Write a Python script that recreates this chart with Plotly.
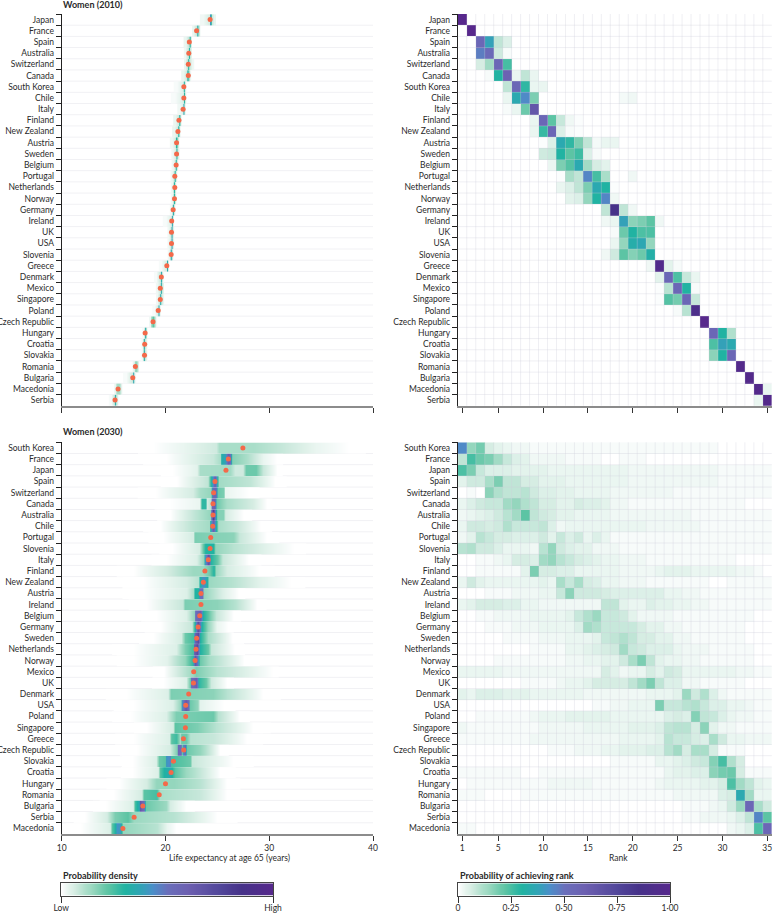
import plotly.graph_objects as go

COUNTRIES_2010 = [
    "Japan", "France", "Spain", "Australia", "Switzerland", "Canada", "South Korea",
    "Chile", "Italy", "Finland", "New Zealand", "Austria", "Sweden", "Belgium",
    "Portugal", "Netherlands", "Norway", "Germany", "Ireland", "UK", "USA", "Slovenia",
    "Greece", "Denmark", "Mexico", "Singapore", "Poland", "Czech Republic", "Hungary",
    "Croatia", "Slovakia", "Romania", "Bulgaria", "Macedonia", "Serbia",
]
COUNTRIES_2030 = [
    "South Korea", "France", "Japan", "Spain", "Switzerland", "Canada", "Australia",
    "Chile", "Portugal", "Slovenia", "Italy", "Finland", "New Zealand", "Austria",
    "Ireland", "Belgium", "Germany", "Sweden", "Netherlands", "Norway", "Mexico", "UK",
    "Denmark", "USA", "Poland", "Singapore", "Greece", "Czech Republic", "Slovakia",
    "Croatia", "Hungary", "Romania", "Bulgaria", "Serbia", "Macedonia",
]

# posterior mean life expectancy, the orange dots
MEANS_2010 = [
    24.3, 23.0, 22.3, 22.25, 22.2, 22.2, 21.77, 21.77, 21.7, 21.3, 21.2, 21.07, 21.07,
    21.03, 20.9, 20.9, 20.87, 20.74, 20.6, 20.58, 20.58, 20.55, 20.13, 19.6, 19.5, 19.5,
    19.3, 18.8, 18.04, 18.0, 17.98, 17.1, 16.85, 15.43, 15.14,
]
MEANS_2030 = [
    27.46, 26.06, 25.83, 24.77, 24.64, 24.58, 24.58, 24.55, 24.36, 24.3, 24.13, 23.8,
    23.65, 23.42, 23.42, 23.3, 23.14, 23.0, 22.94, 22.85, 22.72, 22.7, 22.24, 21.95,
    21.95, 21.92, 21.73, 21.76, 20.77, 20.54, 20.0, 19.4, 17.82, 16.98, 15.9,
]

# density profiles: years and density at those years
DENSITY_2010_YEARS = [
    [23.6, 24.15, 24.3, 24.45, 24.7], [22.7, 22.95, 23.05, 23.15, 23.3],
    [21.9, 22.2, 22.3, 22.4, 22.5], [21.9, 22.15, 22.25, 22.35, 22.5],
    [21.9, 22.1, 22.2, 22.3, 22.6], [21.7, 22.05, 22.15, 22.25, 22.4],
    [21.1, 21.7, 21.8, 21.9, 22.0], [20.9, 21.65, 21.75, 21.85, 22.0],
    [21.3, 21.6, 21.7, 21.8, 21.9], [20.9, 21.2, 21.3, 21.4, 21.5],
    [20.8, 21.1, 21.2, 21.3, 21.4], [20.6, 20.95, 21.05, 21.15, 21.3],
    [20.7, 20.95, 21.05, 21.15, 21.3], [20.7, 20.9, 21.0, 21.1, 21.2],
    [20.6, 20.8, 20.9, 21.0, 21.1], [20.6, 20.75, 20.85, 20.95, 21.05],
    [20.6, 20.75, 20.85, 20.95, 21.05], [20.5, 20.65, 20.75, 20.85, 20.95],
    [20.0, 20.5, 20.6, 20.7, 20.8], [20.3, 20.5, 20.6, 20.7, 20.8],
    [20.3, 20.5, 20.6, 20.7, 20.8], [20.3, 20.45, 20.55, 20.65, 20.75],
    [19.6, 20.05, 20.15, 20.25, 20.3], [19.1, 19.5, 19.6, 19.7, 19.8],
    [19.2, 19.45, 19.55, 19.65, 19.8], [19.2, 19.4, 19.5, 19.6, 19.8],
    [18.9, 19.2, 19.3, 19.4, 19.5], [18.5, 18.65, 18.8, 18.95, 19.1],
    [17.8, 17.9, 18.0, 18.1, 18.2], [17.7, 17.85, 17.95, 18.05, 18.2],
    [17.7, 17.85, 17.95, 18.05, 18.2], [16.9, 17.0, 17.1, 17.25, 17.4],
    [16.2, 16.75, 16.85, 16.95, 17.1], [15.15, 15.3, 15.45, 15.6, 15.75],
    [14.7, 15.0, 15.1, 15.2, 15.4],
]
DENSITY_2010_VALUES = [
    [0.02, 0.06, 0.42, 0.07, 0.03], [0.03, 0.08, 0.34, 0.12, 0.01],
    [0.03, 0.09, 0.3, 0.08, 0.01], [0.02, 0.08, 0.3, 0.08, 0.01],
    [0.03, 0.09, 0.3, 0.08, 0.02], [0.03, 0.07, 0.32, 0.07, 0.01],
    [0.01, 0.05, 0.3, 0.07, 0.01], [0.01, 0.05, 0.3, 0.07, 0.01],
    [0.02, 0.05, 0.36, 0.06, 0.01], [0.03, 0.07, 0.3, 0.09, 0.01],
    [0.03, 0.07, 0.3, 0.09, 0.01], [0.02, 0.06, 0.3, 0.07, 0.01],
    [0.02, 0.06, 0.3, 0.07, 0.01], [0.02, 0.06, 0.3, 0.07, 0.01],
    [0.02, 0.07, 0.3, 0.07, 0.01], [0.02, 0.07, 0.3, 0.08, 0.01],
    [0.02, 0.07, 0.3, 0.08, 0.01], [0.02, 0.07, 0.34, 0.07, 0.01],
    [0.01, 0.05, 0.36, 0.06, 0.01], [0.02, 0.07, 0.36, 0.07, 0.01],
    [0.02, 0.07, 0.38, 0.07, 0.01], [0.02, 0.08, 0.36, 0.1, 0.01],
    [0.01, 0.06, 0.34, 0.06, 0.01], [0.01, 0.08, 0.34, 0.06, 0.01],
    [0.02, 0.07, 0.34, 0.08, 0.01], [0.02, 0.08, 0.34, 0.08, 0.02],
    [0.01, 0.06, 0.36, 0.05, 0.01], [0.02, 0.13, 0.22, 0.13, 0.01],
    [0.01, 0.07, 0.34, 0.1, 0.01], [0.01, 0.08, 0.34, 0.08, 0.01],
    [0.01, 0.08, 0.34, 0.08, 0.01], [0.03, 0.14, 0.16, 0.12, 0.01],
    [0.01, 0.07, 0.36, 0.05, 0.01], [0.03, 0.12, 0.13, 0.12, 0.02],
    [0.01, 0.08, 0.34, 0.1, 0.01],
]
DENSITY_2030_YEARS = [
    [18.8, 21.7, 24.9, 25.2, 28.4, 31.3, 34.5, 37.7],
    [20.1, 24.6, 25.3, 25.4, 25.8, 26.0, 26.25, 26.4, 27.8, 29.4, 30.7],
    [20.7, 23.0, 23.3, 26.2, 26.7, 27.5, 27.7, 28.75, 29.4, 30.7],
    [21.06, 24.1, 24.45, 24.7, 24.9, 25.1, 28.1, 30.5],
    [19.1, 22.66, 23.3, 24.4, 24.5, 24.85, 25.06, 25.6, 25.75, 28.0],
    [20.4, 23.3, 23.5, 23.85, 24.0, 24.3, 24.45, 24.7, 24.9, 25.9, 28.4, 29.7],
    [20.5, 23.1, 24.3, 24.4, 24.6, 24.8, 25.0, 25.6, 25.75, 27.5],
    [19.5, 22.8, 24.3, 24.35, 24.6, 24.9, 25.1, 26.8, 29.1],
    [19.8, 22.7, 22.8, 26.5, 27.1, 29.7],
    [20.7, 23.3, 23.4, 23.8, 24.6, 24.8, 26.5, 29.7, 32.3],
    [20.1, 23.0, 23.7, 23.8, 24.1, 24.35, 25.05, 25.5, 28.0],
    [16.9, 20.1, 22.7, 23.6, 24.3, 24.6, 24.8, 25.9, 29.0],
    [17.9, 22.0, 23.2, 23.3, 23.7, 24.0, 24.1, 26.5, 29.1, 32.0],
    [17.9, 22.0, 22.7, 22.8, 23.2, 23.3, 23.55, 23.7, 25.5, 27.0],
    [18.2, 21.7, 21.85, 24.9, 26.8, 28.75],
    [19.1, 22.0, 22.8, 22.9, 23.3, 23.6, 24.3, 24.9, 26.5],
    [19.5, 22.5, 22.8, 23.1, 23.45, 24.1, 24.9, 26.0],
    [18.8, 21.5, 21.85, 22.65, 22.8, 23.1, 23.3, 24.1, 26.4],
    [16.9, 21.0, 21.85, 22.65, 22.8, 23.05, 23.3, 24.1, 24.4, 26.6],
    [16.9, 20.1, 21.85, 22.6, 22.8, 23.05, 23.3, 24.3, 27.5],
    [19.8, 21.85, 22.65, 22.95, 24.9, 29.05, 30.3],
    [19.8, 22.0, 22.4, 22.5, 22.9, 23.2, 23.9, 24.4, 25.9],
    [16.25, 20.25, 20.5, 24.6, 25.9, 29.4],
    [16.9, 20.7, 21.45, 21.55, 21.9, 22.2, 22.35, 23.1, 23.3, 25.6],
    [16.6, 20.1, 21.05, 24.6, 25.05, 27.1],
    [18.2, 20.7, 20.9, 23.0, 24.9, 28.4],
    [16.9, 20.4, 20.55, 21.05, 21.4, 21.55, 22.0, 22.35, 24.6, 27.8],
    [17.2, 20.4, 21.05, 21.2, 21.45, 21.55, 21.7, 21.9, 22.1, 23.3, 25.2],
    [16.9, 19.1, 19.4, 19.9, 20.0, 20.4, 20.55, 22.35, 22.5, 26.5],
    [16.9, 19.3, 19.5, 19.8, 20.4, 20.9, 22.0, 25.2],
    [15.6, 18.2, 19.1, 20.75, 23.3, 25.9],
    [15.0, 17.7, 17.9, 19.1, 19.45, 23.3, 25.9],
    [14.3, 16.9, 17.0, 17.4, 17.55, 17.9, 18.1, 20.0, 20.4, 22.0],
    [12.2, 14.3, 15.1, 16.4, 16.9, 20.75, 24.9],
    [11.8, 14.6, 14.8, 15.1, 15.3, 15.65, 15.85, 19.15, 20.1, 21.0],
]
DENSITY_2030_VALUES = [
    [0, 0.03, 0.07, 0.12, 0.12, 0.08, 0.03, 0],
    [0, 0.08, 0.12, 0.32, 0.38, 0.6, 0.5, 0.17, 0.12, 0.03, 0],
    [0, 0.04, 0.12, 0.13, 0.07, 0.07, 0.2, 0.2, 0.08, 0],
    [0, 0.09, 0.35, 0.6, 0.35, 0.13, 0.09, 0],
    [0, 0.06, 0.12, 0.15, 0.55, 0.55, 0.2, 0.18, 0.03, 0],
    [0, 0.03, 0.28, 0.28, 0.06, 0.1, 0.55, 0.6, 0.2, 0.12, 0.06, 0],
    [0, 0.1, 0.15, 0.5, 0.8, 0.45, 0.17, 0.17, 0.06, 0],
    [0, 0.1, 0.13, 0.32, 0.6, 0.3, 0.12, 0.08, 0],
    [0, 0.06, 0.18, 0.16, 0.08, 0],
    [0, 0.06, 0.14, 0.3, 0.3, 0.15, 0.1, 0.04, 0],
    [0, 0.05, 0.15, 0.35, 0.7, 0.3, 0.2, 0.08, 0],
    [0, 0.06, 0.14, 0.14, 0.2, 0.3, 0.14, 0.06, 0],
    [0, 0.06, 0.1, 0.3, 0.45, 0.3, 0.14, 0.1, 0.04, 0],
    [0, 0.05, 0.12, 0.3, 0.3, 0.5, 0.5, 0.15, 0.05, 0],
    [0, 0.08, 0.18, 0.16, 0.1, 0],
    [0, 0.05, 0.15, 0.5, 0.6, 0.3, 0.18, 0.08, 0],
    [0, 0.08, 0.3, 0.7, 0.3, 0.15, 0.03, 0],
    [0, 0.06, 0.2, 0.25, 0.6, 0.7, 0.3, 0.12, 0],
    [0, 0.05, 0.18, 0.25, 0.6, 0.7, 0.3, 0.2, 0.08, 0],
    [0, 0.04, 0.15, 0.28, 0.65, 0.55, 0.2, 0.12, 0],
    [0, 0.1, 0.14, 0.18, 0.1, 0.02, 0],
    [0, 0.05, 0.2, 0.5, 0.6, 0.28, 0.2, 0.07, 0],
    [0, 0.05, 0.18, 0.16, 0.1, 0],
    [0, 0.05, 0.15, 0.4, 0.65, 0.5, 0.2, 0.15, 0.04, 0],
    [0, 0.05, 0.18, 0.2, 0.1, 0],
    [0, 0.06, 0.22, 0.18, 0.1, 0],
    [0, 0.05, 0.22, 0.26, 0.12, 0.2, 0.2, 0.1, 0.08, 0],
    [0, 0.06, 0.18, 0.55, 0.5, 0.2, 0.4, 0.55, 0.2, 0.15, 0],
    [0, 0.05, 0.2, 0.22, 0.4, 0.45, 0.25, 0.2, 0.08, 0],
    [0, 0.05, 0.22, 0.3, 0.35, 0.22, 0.14, 0],
    [0, 0.06, 0.15, 0.15, 0.1, 0],
    [0, 0.06, 0.22, 0.25, 0.12, 0.08, 0],
    [0, 0.05, 0.25, 0.35, 0.65, 0.5, 0.2, 0.14, 0.06, 0],
    [0, 0.06, 0.18, 0.22, 0.14, 0.1, 0],
    [0, 0.05, 0.22, 0.3, 0.42, 0.4, 0.15, 0.1, 0.03, 0],
]

RANKS = list(range(1, 36))
RANK_TICKS = [1, 5, 10, 15, 20, 25, 30, 35]

# first rank with any probability in 2010, then the probabilities from there on
RANK_2010_FIRST = [
    1, 2, 3, 3, 3, 4, 6, 6, 6, 9, 9, 10, 10, 11, 12, 12, 13, 17, 17, 18, 18, 17, 22, 23,
    23, 23, 25, 28, 29, 29, 29, 32, 33, 34, 34,
]
RANK_2010_VALUES = [
    [1.0], [1.0], [0.55, 0.38, 0.09, 0.05], [0.47, 0.53, 0.07, 0.01],
    [0.06, 0.13, 0.55, 0.25], [0.01, 0.3, 0.58, 0.03, 0.09, 0.03],
    [0.09, 0.55, 0.28, 0.03, 0.03],
    [0.03, 0.35, 0.44, 0.18, 0, 0, 0, 0, 0, 0, 0, 0, 0, 0.015, 0.02],
    [0.01, 0.03, 0.2, 0.65], [0.03, 0.55, 0.22, 0.08, 0.02, 0.005],
    [0.03, 0.27, 0.55, 0.05, 0.01, 0.005],
    [0.005, 0.05, 0.35, 0.28, 0.18, 0.09, 0.015, 0.03, 0.03],
    [0.07, 0.08, 0.3, 0.22, 0.26, 0.05, 0.01],
    [0.03, 0.18, 0.23, 0.35, 0.13, 0.06, 0.04],
    [0.005, 0.12, 0.09, 0.45, 0.25, 0.12, 0, 0, 0.02],
    [0.03, 0.05, 0.09, 0.18, 0.35, 0.3, 0.005],
    [0.04, 0.05, 0.15, 0.3, 0.45, 0.02],
    [0.09, 0.85, 0.09, 0.02], [0.02, 0.03, 0.38, 0.16, 0.18, 0.22, 0.02],
    [0.01, 0.2, 0.3, 0.24, 0.24], [0.03, 0.15, 0.33, 0.36, 0.15],
    [0.02, 0.07, 0.22, 0.17, 0.2, 0.32], [0.02, 0.95, 0.04, 0.01],
    [0.04, 0.55, 0.24, 0.08, 0.03], [0.005, 0.1, 0.55, 0.3, 0.01],
    [0.005, 0.23, 0.19, 0.55, 0.08], [0.01, 0.1, 0.9], [1.0],
    [0.55, 0.3, 0.11], [0.24, 0.38, 0.35], [0.16, 0.3, 0.55], [0.97], [0.97],
    [0.97, 0.03], [0.03, 0.97],
]
# probability x 100, one value per rank
RANK_2030_PERCENT = [
    [44, 15, 19, 6, 4, 3, 2, 2, 1, 1, 1, 1, 1, 1, 1, 1, 1, 1, 1, 1, 1, 1, 1, 1, 1, 1, 1, 1, 1, 0, 0, 0, 0, 0, 0],
    [9, 25, 20, 18, 13, 8, 5, 4, 2, 2, 2, 2, 1, 1, 1, 1, 0, 0, 1, 1, 1, 0, 0, 0, 0, 0, 0, 0, 0, 0, 0, 0, 0, 0, 0],
    [24, 18, 8, 5, 5, 5, 4, 4, 4, 4, 3, 3, 3, 3, 3, 3, 3, 3, 3, 2, 2, 2, 2, 2, 2, 2, 2, 2, 2, 1, 1, 1, 1, 1, 1],
    [4, 7, 7, 12, 18, 9, 9, 6, 6, 4, 4, 4, 3, 3, 3, 3, 3, 3, 3, 2, 2, 2, 2, 2, 2, 2, 2, 2, 2, 1, 1, 1, 1, 1, 1],
    [0, 1, 0, 16, 11, 9, 9, 10, 7, 5, 5, 4, 4, 3, 3, 3, 3, 2, 2, 2, 2, 2, 2, 2, 1, 1, 1, 1, 1, 1, 1, 1, 1, 1, 1],
    [3, 5, 7, 8, 8, 13, 15, 11, 9, 6, 6, 4, 4, 6, 5, 5, 4, 2, 2, 1, 1, 1, 1, 1, 1, 1, 1, 1, 1, 1, 1, 1, 0, 0, 0],
    [2, 3, 4, 5, 7, 10, 13, 22, 9, 7, 6, 4, 4, 3, 3, 3, 3, 2, 2, 2, 2, 2, 2, 2, 2, 2, 1, 1, 1, 1, 1, 1, 1, 1, 1],
    [3, 7, 7, 6, 7, 11, 8, 8, 8, 9, 5, 2, 3, 3, 3, 3, 3, 3, 3, 3, 3, 2, 2, 2, 2, 2, 2, 1, 1, 1, 1, 1, 1, 1, 1],
    [2, 4, 10, 8, 6, 6, 5, 5, 5, 7, 4, 8, 5, 7, 3, 5, 3, 1, 1, 1, 1, 1, 1, 1, 1, 1, 1, 1, 1, 1, 1, 1, 1, 1, 1],
    [10, 11, 7, 7, 5, 3, 3, 3, 2, 10, 15, 7, 5, 4, 4, 2, 2, 2, 1, 1, 1, 1, 1, 1, 1, 1, 1, 1, 1, 1, 1, 1, 1, 1, 1],
    [0, 0, 1, 1, 2, 3, 6, 6, 5, 13, 15, 10, 8, 6, 5, 4, 3, 3, 2, 2, 2, 1, 1, 1, 1, 1, 1, 1, 1, 1, 1, 0, 0, 0, 0],
    [0, 0, 1, 1, 1, 1, 1, 4, 18, 6, 6, 5, 5, 3, 3, 3, 3, 3, 2, 2, 2, 2, 3, 4, 4, 4, 3, 3, 3, 3, 3, 2, 2, 1, 0],
    [3, 7, 4, 3, 3, 3, 3, 3, 3, 4, 3, 12, 8, 12, 6, 5, 3, 3, 2, 2, 2, 1, 1, 1, 1, 1, 1, 1, 0, 0, 1, 1, 1, 1, 1],
    [0, 0, 0, 1, 1, 1, 2, 2, 2, 3, 3, 8, 16, 7, 7, 7, 6, 5, 5, 5, 5, 5, 5, 3, 3, 2, 2, 1, 1, 1, 1, 1, 1, 1, 1],
    [3, 4, 6, 6, 6, 5, 5, 3, 3, 2, 2, 2, 2, 2, 2, 2, 9, 9, 4, 3, 3, 5, 4, 4, 3, 3, 2, 2, 1, 1, 1, 1, 1, 1, 1],
    [0, 0, 1, 1, 2, 2, 2, 2, 3, 3, 3, 3, 4, 8, 11, 14, 8, 8, 7, 4, 2, 2, 2, 2, 1, 1, 1, 1, 1, 1, 1, 1, 1, 0, 0],
    [0, 0, 0, 1, 1, 1, 2, 2, 2, 3, 3, 3, 3, 5, 13, 11, 8, 8, 8, 8, 6, 4, 4, 2, 2, 1, 1, 1, 1, 1, 1, 1, 0, 0, 0],
    [0, 0, 0, 0, 0, 1, 1, 1, 1, 2, 2, 2, 3, 3, 3, 4, 8, 9, 11, 9, 6, 6, 4, 4, 2, 2, 1, 1, 1, 1, 1, 1, 0, 0, 0],
    [0, 0, 0, 0, 0, 0, 0, 0, 1, 1, 1, 1, 3, 3, 4, 5, 6, 7, 13, 8, 7, 5, 5, 5, 3, 2, 2, 2, 1, 1, 1, 1, 1, 0, 0],
    [0, 0, 0, 0, 1, 1, 1, 1, 1, 1, 1, 1, 2, 2, 3, 3, 4, 4, 7, 12, 18, 9, 4, 3, 3, 2, 2, 1, 1, 1, 1, 1, 1, 0, 0],
    [3, 3, 3, 3, 3, 2, 2, 2, 2, 2, 2, 2, 2, 2, 2, 2, 6, 4, 2, 3, 3, 6, 4, 7, 6, 3, 3, 3, 3, 3, 3, 2, 2, 1, 1],
    [0, 0, 0, 0, 0, 0, 0, 1, 1, 1, 1, 2, 3, 3, 4, 6, 6, 6, 6, 9, 13, 18, 9, 5, 5, 2, 2, 1, 1, 1, 1, 1, 0, 0, 0],
    [4, 3, 5, 5, 5, 4, 4, 4, 3, 3, 3, 3, 3, 3, 2, 2, 2, 2, 2, 2, 2, 3, 3, 3, 4, 14, 7, 11, 5, 2, 1, 1, 1, 1, 1],
    [0, 0, 0, 0, 0, 0, 0, 0, 0, 0, 0, 0, 0, 0, 0, 1, 1, 2, 2, 3, 3, 3, 18, 8, 8, 10, 11, 8, 5, 5, 3, 3, 2, 1, 1],
    [0, 0, 1, 1, 1, 1, 1, 1, 2, 3, 3, 3, 4, 4, 4, 4, 4, 3, 3, 3, 3, 3, 3, 5, 6, 5, 17, 9, 8, 5, 3, 2, 2, 1, 1],
    [2, 1, 1, 1, 1, 1, 1, 1, 1, 2, 2, 2, 2, 2, 3, 3, 3, 3, 3, 4, 4, 4, 5, 9, 10, 10, 6, 16, 4, 2, 2, 1, 1, 1, 1],
    [1, 1, 1, 1, 1, 1, 1, 1, 2, 2, 2, 2, 2, 2, 2, 2, 2, 2, 3, 3, 3, 3, 4, 10, 8, 8, 6, 5, 12, 7, 3, 3, 2, 2, 2],
    [0, 0, 0, 0, 0, 0, 0, 0, 0, 0, 1, 1, 1, 2, 2, 2, 3, 3, 4, 4, 4, 5, 5, 10, 13, 6, 12, 12, 6, 1, 1, 1, 0, 0, 0],
    [0, 0, 0, 0, 0, 0, 0, 0, 0, 0, 0, 0, 0, 0, 0, 0, 0, 1, 1, 1, 1, 1, 3, 3, 4, 5, 7, 8, 17, 25, 11, 6, 0, 0, 0],
    [1, 1, 1, 1, 1, 1, 1, 0, 0, 1, 1, 1, 1, 1, 1, 1, 1, 1, 1, 1, 1, 1, 1, 3, 4, 4, 5, 5, 16, 19, 20, 6, 1, 1, 1],
    [0, 1, 1, 1, 1, 1, 1, 1, 1, 1, 2, 2, 2, 2, 2, 1, 1, 1, 1, 1, 1, 1, 2, 3, 3, 3, 3, 4, 4, 6, 24, 13, 9, 4, 3],
    [1, 1, 1, 0, 0, 0, 0, 1, 1, 1, 1, 1, 1, 1, 1, 1, 1, 1, 1, 1, 1, 1, 1, 1, 2, 2, 2, 2, 2, 5, 6, 35, 13, 3, 3],
    [0, 0, 0, 0, 0, 0, 0, 0, 0, 0, 0, 0, 0, 0, 0, 0, 0, 0, 0, 0, 0, 0, 0, 0, 0, 1, 1, 1, 2, 3, 7, 14, 55, 12, 7],
    [0, 0, 0, 0, 0, 0, 0, 0, 0, 0, 0, 0, 0, 0, 0, 0, 0, 0, 0, 0, 0, 0, 0, 0, 0, 1, 1, 2, 2, 2, 3, 5, 9, 45, 22],
    [1, 1, 0, 0, 0, 0, 0, 0, 0, 0, 0, 0, 0, 0, 0, 0, 0, 0, 0, 0, 0, 0, 0, 0, 0, 0, 0, 0, 0, 0, 2, 3, 5, 24, 55],
]

WIDTH = 774
HEIGHT = 913
FONT = "Lato"
FONT_SIZE = 8.5
TITLE_SIZE = 9
TEXT_COLOR = "#2a2a2a"
DOT_COLOR = "#f4694a"
GRID_COLOR = "#f1f1f4"
GRID_OVER_COLOR = "rgba(205,205,220,0.33)"
COLORSCALE = [
    [0, "#ffffff"], [0.01, "#f7fbfa"], [0.02, "#f0f8f5"], [0.04, "#e3f3ec"],
    [0.07, "#cfeadf"], [0.11, "#b0e0cd"], [0.15, "#94d6bd"], [0.22, "#5cc4a4"],
    [0.30, "#21b3a2"], [0.37, "#2fa5b5"], [0.43, "#4a8fc9"], [0.5, "#6a6fbb"],
    [0.6, "#6c5fb0"], [0.75, "#51469a"], [0.85, "#463289"], [1, "#57288c"],
]
SCALE_LEVELS = [level / 100 for level in range(101)]

# panel edges in pixels
LEFT_X = (61.7, 373.0)
RIGHT_X = (457.8, 771.8)
TOP_Y = (14.0, 405.7)
BOTTOM_Y = (442.3, 834.0)
SCALE_Y = (883.3, 895.7)
SCALE_LEFT_X = (61.3, 273.0)
SCALE_RIGHT_X = (458.0, 670.0)


def x_domain(edges):
    return [edges[0] / WIDTH, edges[1] / WIDTH]


def y_domain(edges):
    return [1 - edges[1] / HEIGHT, 1 - edges[0] / HEIGHT]


def y_paper(pixels):
    return 1 - pixels / HEIGHT


def x_axis_style(edges, anchor, value_range, tickvals, show_labels):
    return dict(
        domain=x_domain(edges),
        anchor=anchor,
        range=value_range,
        tickvals=tickvals,
        showticklabels=show_labels,
        ticks="outside",
        ticklen=5,
        tickwidth=1,
        tickcolor="#333333",
        showgrid=False,
        zeroline=False,
        showline=True,
        linecolor="#8c8c8c",
        linewidth=2,
    )


def label_axis_style(countries, anchor):
    return dict(
        type="category",
        categoryorder="array",
        categoryarray=countries,
        range=[34.5, -0.5],
        anchor=anchor,
        tickmode="linear",
        tick0=0,
        dtick=1,
        tickson="boundaries",
        ticks="outside",
        ticklen=5,
        tickwidth=1,
        tickcolor="#222222",
        ticklabelstandoff=5,
        showgrid=False,
        zeroline=False,
        showline=True,
        linecolor="#222222",
        linewidth=1,
    )


def scale_x_axis(edges, anchor, tickvals, ticktext):
    return dict(
        domain=x_domain(edges),
        anchor=anchor,
        range=[0, 1],
        tickvals=tickvals,
        ticktext=ticktext,
        ticks="outside",
        ticklen=6,
        tickwidth=1,
        tickcolor="#333333",
        ticklabelstandoff=-2,
        showgrid=False,
        zeroline=False,
        showline=True,
        mirror=True,
        linecolor="#444444",
        linewidth=1,
    )


def scale_y_axis(anchor):
    return dict(
        domain=y_domain(SCALE_Y),
        anchor=anchor,
        range=[0, 1],
        showticklabels=False,
        ticks="",
        showgrid=False,
        zeroline=False,
        showline=True,
        mirror=True,
        linecolor="#444444",
        linewidth=1,
    )


def add_density_panel(fig, countries, means, years, values, xaxis, heat_yaxis, dot_yaxis):
    for row, country in enumerate(countries):
        fig.add_trace(
            go.Heatmap(
                x=years[row],
                # three edges for two equal rows, so one country keeps to its own band
                y=[row - 0.47, row, row + 0.47],
                z=[values[row], values[row]],
                coloraxis="coloraxis",
                zsmooth="best",
                hoverinfo="skip",
                xaxis=xaxis,
                yaxis=heat_yaxis,
                name=country,
            )
        )
    fig.add_trace(
        go.Scatter(
            x=means,
            y=countries,
            mode="markers",
            marker=dict(color=DOT_COLOR, size=5),
            xaxis=xaxis,
            yaxis=dot_yaxis,
        )
    )


def add_rank_panel(fig, countries, z, xaxis, yaxis):
    fig.add_trace(
        go.Heatmap(x=RANKS, y=countries, z=z, coloraxis="coloraxis", xaxis=xaxis, yaxis=yaxis)
    )


def add_scale(fig, xaxis, yaxis):
    fig.add_trace(
        go.Heatmap(
            x=SCALE_LEVELS,
            y=[0, 0.5, 1],
            z=[SCALE_LEVELS, SCALE_LEVELS],
            coloraxis="coloraxis",
            zsmooth="best",
            hoverinfo="skip",
            xaxis=xaxis,
            yaxis=yaxis,
        )
    )


def row_lines(xref, yref, layer, color):
    lines = []
    for row in range(1, 35):
        lines.append(
            dict(
                type="line", xref=xref + " domain", yref=yref, x0=0, x1=1,
                y0=row - 0.5, y1=row - 0.5, layer=layer,
                line=dict(color=color, width=1),
            )
        )
    return lines


def column_lines(xref, yref):
    lines = []
    for rank in RANKS[:-1]:
        lines.append(
            dict(
                type="line", xref=xref, yref=yref + " domain", y0=0, y1=1,
                x0=rank + 0.5, x1=rank + 0.5, layer="above",
                line=dict(color=GRID_OVER_COLOR, width=1),
            )
        )
    return lines


def text_note(text, x_pixels, y_pixels, anchor="left", size=FONT_SIZE):
    return dict(
        text=text, xref="paper", yref="paper", x=x_pixels / WIDTH, y=y_paper(y_pixels),
        xanchor=anchor, yanchor="middle", showarrow=False,
        font=dict(size=size, color=TEXT_COLOR),
    )


def rank_2010_matrix():
    z = []
    for first, probabilities in zip(RANK_2010_FIRST, RANK_2010_VALUES):
        row = [0.0] * len(RANKS)
        row[first - 1 : first - 1 + len(probabilities)] = probabilities
        z.append(row)
    return z


fig = go.Figure()
add_density_panel(fig, COUNTRIES_2010, MEANS_2010, DENSITY_2010_YEARS, DENSITY_2010_VALUES, "x", "y", "y2")
add_rank_panel(fig, COUNTRIES_2010, rank_2010_matrix(), "x2", "y3")
add_density_panel(fig, COUNTRIES_2030, MEANS_2030, DENSITY_2030_YEARS, DENSITY_2030_VALUES, "x3", "y4", "y5")
add_rank_panel(fig, COUNTRIES_2030, [[p / 100 for p in row] for row in RANK_2030_PERCENT], "x4", "y6")
add_scale(fig, "x5", "y7")
add_scale(fig, "x6", "y8")

heat_axis = dict(
    range=[34.5, -0.5], showticklabels=False, ticks="", showgrid=False, zeroline=False, showline=False,
)
year_ticks = [10, 20, 30, 40]

fig.update_layout(
    template="none",
    width=WIDTH,
    height=HEIGHT,
    margin=dict(l=0, r=0, t=0, b=0),
    paper_bgcolor="white",
    plot_bgcolor="white",
    showlegend=False,
    font=dict(family=FONT, size=FONT_SIZE, color=TEXT_COLOR),
    xaxis=x_axis_style(LEFT_X, "y", [10, 40], year_ticks, False),
    xaxis2=x_axis_style(RIGHT_X, "y3", [0.5, 35.5], RANK_TICKS, False),
    xaxis3=x_axis_style(LEFT_X, "y4", [10, 40], year_ticks, True),
    xaxis4=x_axis_style(RIGHT_X, "y6", [0.5, 35.5], RANK_TICKS, True),
    xaxis5=scale_x_axis(SCALE_LEFT_X, "y7", [0, 1], ["Low", "High"]),
    xaxis6=scale_x_axis(SCALE_RIGHT_X, "y8", [0, 0.25, 0.5, 0.75, 1], ["0", "0·25", "0·50", "0·75", "1·00"]),
    yaxis=dict(domain=y_domain(TOP_Y), anchor="x", **heat_axis),
    yaxis2=dict(domain=y_domain(TOP_Y), overlaying="y", **label_axis_style(COUNTRIES_2010, "x")),
    yaxis3=dict(domain=y_domain(TOP_Y), **label_axis_style(COUNTRIES_2010, "x2")),
    yaxis4=dict(domain=y_domain(BOTTOM_Y), anchor="x3", **heat_axis),
    yaxis5=dict(domain=y_domain(BOTTOM_Y), overlaying="y4", **label_axis_style(COUNTRIES_2030, "x3")),
    yaxis6=dict(domain=y_domain(BOTTOM_Y), **label_axis_style(COUNTRIES_2030, "x4")),
    yaxis7=scale_y_axis("x5"),
    yaxis8=scale_y_axis("x6"),
    coloraxis=dict(colorscale=COLORSCALE, cmin=0, cmax=1, showscale=False),
    shapes=(
        row_lines("x", "y", "below", GRID_COLOR)
        + row_lines("x3", "y4", "below", GRID_COLOR)
        + row_lines("x2", "y3", "above", GRID_OVER_COLOR)
        + row_lines("x4", "y6", "above", GRID_OVER_COLOR)
        + column_lines("x2", "y3")
        + column_lines("x4", "y6")
    ),
    annotations=[
        text_note("<b>Women (2010)</b>", 61, 5, size=TITLE_SIZE),
        text_note("<b>Women (2030)</b>", 61, 431.7, size=TITLE_SIZE),
        text_note("Life expectancy at age 65 (years)", 229.7, 858, "center"),
        text_note("Rank", 618, 858, "center"),
        text_note("<b>Probability density</b>", 61, 875, size=TITLE_SIZE),
        text_note("<b>Probability of achieving rank</b>", 458, 875, size=TITLE_SIZE),
    ],
)

# the page's default body margin would push the fixed-size figure off by 8px
fig.write_html(
    "out.html",
    config={"displayModeBar": False},
    post_script="document.body.style.margin = '0';",
)
